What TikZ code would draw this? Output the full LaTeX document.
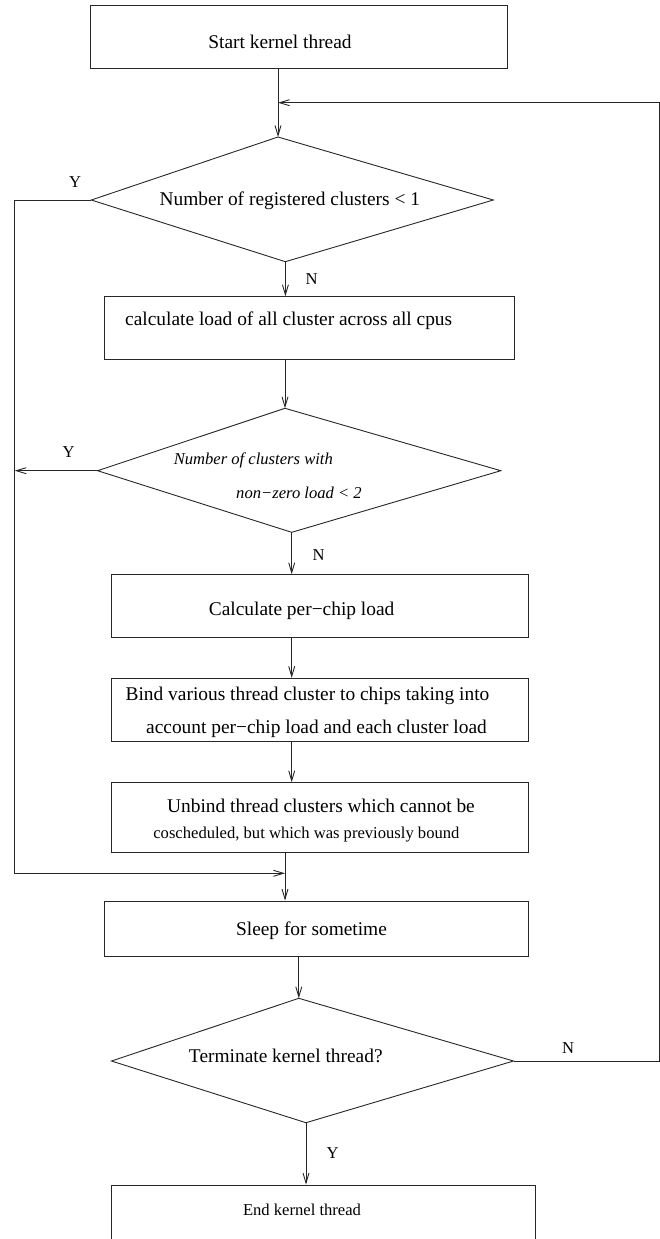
\documentclass[tikz,border=0pt]{standalone}
\usepackage{fontspec}
\setmainfont{Liberation Serif}
\usetikzlibrary{arrows.meta}
\begin{document}
\begin{tikzpicture}[x=1pt,y=-1pt,
  line/.style={draw=black!85, line width=0.9pt},
  arr/.style={line, -{Straight Barb[length=10pt,width=6pt]}},
  box/.style={draw=black!85, line width=0.9pt, rectangle, inner sep=0pt},
  big/.style={font=\fontsize{19.4}{23}\selectfont, inner sep=0pt},
  small/.style={font=\fontsize{16.6}{20}\selectfont, inner sep=0pt},
]
\useasboundingbox (0,0) rectangle (660,1239);
\clip (0,0) rectangle (660,1239);

% boxes
\node[box, minimum width=416.5pt, minimum height=63.3pt] (b1) at (298.75,36.65) {};
\node[box, minimum width=410.3pt, minimum height=62.6pt] (b2) at (309.15,328) {};
\node[box, minimum width=416.7pt, minimum height=62.3pt] (b3) at (319.85,605.85) {};
\node[box, minimum width=416.7pt, minimum height=63pt] (b4) at (319.85,709.8) {};
\node[box, minimum width=416.7pt, minimum height=69.6pt] (b5) at (319.85,817.5) {};
\node[box, minimum width=423.8pt, minimum height=55.3pt] (b6) at (316.3,928.65) {};
\node[box, minimum width=423.5pt, minimum height=62pt] (b7) at (323.25,1216) {};

% box texts
\node[big] (t1) at (280,41.7) {Start kernel thread};
\node[big] (t2) at (288.7,320.5) {calculate load of all cluster across all cpus};
\node[big] (t3) at (301.6,611) {Calculate per−chip load};
\node[big] (t4a) at (307.5,695.5) {Bind various thread cluster to chips taking into};
\node[big] (t4b) at (316.5,729) {account per−chip load and each cluster load};
\node[big] (t5a) at (321,806) {Unbind thread clusters which cannot be};
\node[small] (t5b) at (306.4,835) {coscheduled, but which was previously bound};
\node[big] (t6) at (311.5,931) {Sleep for sometime};
\node[small] (t7) at (302,1210) {End kernel thread};

% diamonds
\coordinate (d1t) at (278,137);
\coordinate (d1r) at (493.3,200);
\coordinate (d1b) at (285.4,261.7);
\coordinate (d1l) at (91.3,200);
\draw[line] (d1t) -- (d1r) -- (d1b) -- (d1l) -- cycle;
\node[big] (q1) at (289.8,201) {Number of registered clusters < 1};

\coordinate (d2t) at (285,408.3);
\coordinate (d2r) at (500.8,470.7);
\coordinate (d2b) at (291.7,532.3);
\coordinate (d2l) at (97.6,470.7);
\draw[line] (d2t) -- (d2r) -- (d2b) -- (d2l) -- cycle;
\node[small,font=\fontsize{16.6}{20}\selectfont\itshape] (q2a) at (253.3,460) {Number of clusters with};
\node[small,font=\fontsize{16.6}{20}\selectfont\itshape] (q2b) at (299,493) {non−zero load < 2};

\coordinate (d3t) at (298.8,998.3);
\coordinate (d3r) at (513.5,1061);
\coordinate (d3b) at (306,1122.7);
\coordinate (d3l) at (111.5,1061);
\draw[line] (d3t) -- (d3r) -- (d3b) -- (d3l) -- cycle;
\node[big] (q3) at (285.8,1055.5) {Terminate kernel thread?};

% corner coordinates
\coordinate (rx) at (659.5,102.7);
\coordinate (lx) at (14.7,873.3);

% connectors
\draw[arr] (b1.south -| d1t) -- (d1t);
\draw[arr] (d3r) -- (d3r -| rx) -- (rx) -- (rx -| d1t);
\draw[arr] (d1l) -- (d1l -| lx) -- (lx) -- (lx -| d2t);
\draw[arr] (d2l) -- (d2l -| lx);
\draw[arr] (d1b) -- (d1b |- b2.north);
\draw[arr] (b2.south -| d2t) -- (d2t);
\draw[arr] (d2b) -- (d2b |- b3.north);
\draw[arr] (b3.south -| d2b) -- (b4.north -| d2b);
\draw[arr] (b4.south -| d2b) -- (b5.north -| d2b);
\draw[arr] (b5.south -| d2t) -- (b6.north -| d2t);
\draw[arr] (b6.south -| d3t) -- (d3t);
\draw[arr] (d3b) -- (d3b |- b7.north);

% branch labels
\node[small] (y1) at (75,182) {Y};
\node[small] (n1) at (311.5,279) {N};
\node[small] (y2) at (68.6,452) {Y};
\node[small] (n2) at (318.6,555.5) {N};
\node[small] (n3) at (568.2,1048.5) {N};
\node[small] (y3) at (332.5,1153) {Y};
\end{tikzpicture}
\end{document}
